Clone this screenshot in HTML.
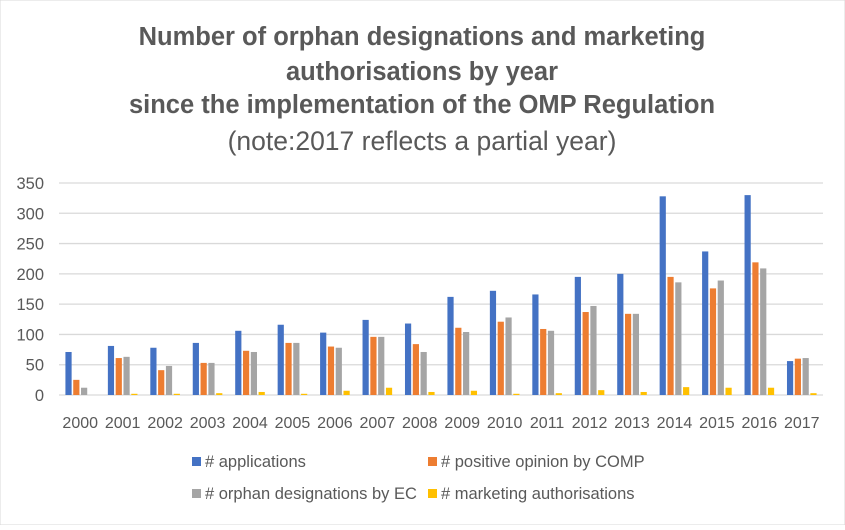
<!DOCTYPE html>
<html><head><meta charset="utf-8"><style>
body{margin:0;background:#fff;}
svg text{font-family:"Liberation Sans",sans-serif;fill:#595959;}
</style></head><body>
<svg width="845" height="525" xmlns="http://www.w3.org/2000/svg">
<rect x="0" y="0" width="845" height="525" fill="#fff" stroke="#d9d9d9"/>
<g text-anchor="middle">
<text x="422" y="45" font-size="25.5" font-weight="bold">Number of orphan designations and marketing</text>
<text x="422" y="80" font-size="25.5" font-weight="bold">authorisations by year</text>
<text x="422" y="113" font-size="25.5" font-weight="bold">since the implementation of the OMP Regulation</text>
<text x="422" y="150" font-size="26.5">(note:2017 reflects a partial year)</text>
</g>
<g id="grid"></g><g id="bars"></g><g id="axes"></g><g id="legend"></g>
</svg>
<script>
const years=["2000","2001","2002","2003","2004","2005","2006","2007","2008","2009","2010","2011","2012","2013","2014","2015","2016","2017"];
const applications=[71,81,78,86,106,116,103,124,118,162,172,166,195,200,328,237,330,56];
const positiveOpinion=[25,61,41,53,73,86,80,96,84,111,121,109,137,134,195,176,219,60];
const designations=[12,63,48,53,71,86,78,96,71,104,128,106,147,134,186,189,209,61];
const authorisations=[0,2,2,3,5,2,7,12,5,7,2,3,8,5,13,12,12,3];
const yTicks=[0,50,100,150,200,250,300,350];
const seriesNames=["# applications","# positive opinion by COMP","# orphan designations by EC","# marketing authorisations"];
const colors=["#4472c4","#ed7d31","#a5a5a5","#ffc000"];
const series=[applications,positiveOpinion,designations,authorisations];
const NS="http://www.w3.org/2000/svg";
const L=59,R=823,B=395,T=183,maxV=350;
const cw=(R-L)/years.length;
const y=v=>B-(v/maxV)*(B-T);
const xc=i=>L+cw*(i+0.5);
function mk(tag,attrs,parent,txt){const e=document.createElementNS(NS,tag);for(const k in attrs)e.setAttribute(k,attrs[k]);if(txt!==undefined)e.textContent=txt;parent.appendChild(e);return e;}
const grid=document.getElementById('grid'),bars=document.getElementById('bars'),axes=document.getElementById('axes'),legend=document.getElementById('legend');
yTicks.forEach(t=>{
 const l=mk('line',{x1:L,x2:R,y1:y(t),y2:y(t),stroke:'#d9d9d9','stroke-width':1.3},grid);
 
 
 const tx=mk('text',{x:44,y:y(t)+6,'font-size':16.5,'text-anchor':'end'},axes,String(t));
 
 
});
const pitch=7.8,bw=6.2;
years.forEach((yr,i)=>{
 series.forEach((s,j)=>{
  const x=xc(i)-2*pitch+j*pitch+(pitch-bw)/2;
  const r=mk('rect',{x:x,y:y(s[i]),width:bw,height:B-y(s[i]),fill:colors[j]},bars);
  
  
 });
 const tx=mk('text',{x:xc(i),y:428,'font-size':16,'text-anchor':'middle'},axes,yr);
 
 
});
const lp=[[192,462],[428,462],[192,494],[428,494]];
seriesNames.forEach((n,j)=>{
 const g=mk('g',{},legend);
 
 
 mk('rect',{x:lp[j][0],y:lp[j][1]-5,width:9,height:9,fill:colors[j]},g);
 mk('text',{x:lp[j][0]+13,y:lp[j][1]+5,'font-size':16.5},g,n);
});
</script>
</body></html>
